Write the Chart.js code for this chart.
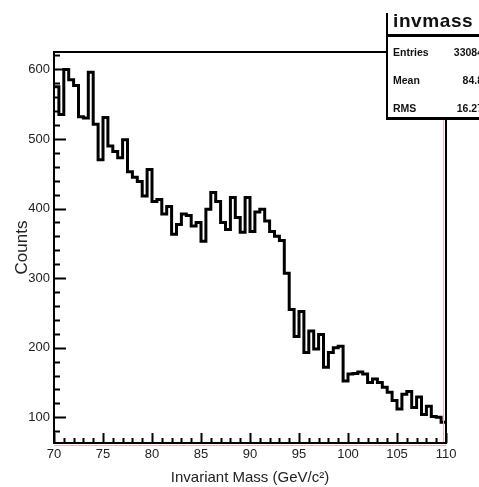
<!DOCTYPE html>
<html>
<head>
<meta charset="utf-8">
<script src="https://cdn.jsdelivr.net/npm/chart.js@4/dist/chart.umd.min.js"></script>
<style>
html,body{margin:0;padding:0;background:#fff;overflow:hidden;}
#wrap{position:relative;width:479px;height:487px;overflow:hidden;}
#stats{position:absolute;left:386px;top:13px;width:120px;height:104px;background:#fff;
  border-left:2px solid #000;border-bottom:3px solid #000;font-family:"Liberation Sans",Arial,sans-serif;color:#111;}
#stats .ttl{position:absolute;left:5px;top:-3px;font-size:19px;font-weight:bold;letter-spacing:0.6px;}
#stats .sep{position:absolute;left:0;top:21px;width:100%;height:3px;background:#000;}
#stats .row{position:absolute;left:5px;width:90px;font-size:10.5px;font-weight:bold;}
#stats .row span{position:absolute;right:0;top:0;}
</style>
</head>
<body>
<div id="wrap">
<canvas id="c" width="479" height="487"></canvas>
<div id="stats">
  <div class="ttl">invmass</div>
  <div class="sep"></div>
  <div class="row" style="top:33px">Entries<span>33084</span></div>
  <div class="row" style="top:61px">Mean<span>84.8</span></div>
  <div class="row" style="top:89px">RMS<span>16.27</span></div>
</div>
</div>
<script>
// ---- data ----
const histLow = 70;          // GeV/c^2
const binWidth = 0.5;        // GeV/c^2
const counts = [
  575,535,600,585,577,532,530,596,521,470,
  531,490,482,473,499,453,445,439,418,456,
  410,413,392,403,363,377,392,390,375,380,
  353,399,423,410,380,370,416,387,366,416,
  367,395,399,382,367,360,354,307,255,216,
  252,193,224,198,219,172,193,200,202,152,
  162,163,165,162,150,155,150,143,136,124,
  112,133,137,114,129,104,116,101,100,93
];
const xTickLabels = [70,75,80,85,90,95,100,105,110];
const yTickLabels = [100,200,300,400,500,600];
const yRange = [63, 625];

// bin low edges (categories) + closing edge
const binEdges = counts.map((_, i) => histLow + i * binWidth);
const points = counts.map((v, i) => ({x: binEdges[i], y: v}));
points.push({x: histLow + counts.length * binWidth, y: counts[counts.length - 1]});

const rootFrame = {
  id: 'rootFrame',
  afterDatasetsDraw(chart) {
    const {ctx, chartArea: a, scales: {x, y}} = chart;
    ctx.save();
    ctx.strokeStyle = '#000';
    ctx.lineWidth = 2;
    ctx.beginPath();
    // y ticks (inside the frame)
    for (let v = 20 * Math.ceil(yRange[0] / 20); v <= yRange[1]; v += 20) {
      const py = Math.round(y.getPixelForValue(v)) + 0.5;
      const len = yTickLabels.includes(v) ? 12 : 6;
      ctx.moveTo(a.left, py); ctx.lineTo(a.left + len, py);
    }
    // x ticks
    for (let v = xTickLabels[0]; v <= xTickLabels[xTickLabels.length - 1]; v += 1) {
      const px = Math.round(x.getPixelForValue(v)) + 0.5;
      const len = xTickLabels.includes(v) ? 10 : 5;
      ctx.moveTo(px, a.bottom); ctx.lineTo(px, a.bottom - len);
    }
    ctx.stroke();
    // pink inner lines (ROOT frame)
    ctx.strokeStyle = '#f4b0b0';
    ctx.lineWidth = 1;
    ctx.beginPath();
    ctx.moveTo(a.right - 2.5, a.top); ctx.lineTo(a.right - 2.5, a.bottom);
    ctx.moveTo(a.left, a.bottom + 2.5); ctx.lineTo(a.right, a.bottom + 2.5);
    ctx.stroke();
    // frame
    ctx.strokeStyle = '#000';
    ctx.lineWidth = 2;
    ctx.strokeRect(a.left, a.top, a.right - a.left, a.bottom - a.top);
    ctx.restore();
  }
};

new Chart(document.getElementById('c'), {
  type: 'line',
  data: {
    datasets: [{
      data: points,
      stepped: true,
      borderColor: '#000',
      borderWidth: 3,
      pointRadius: 0,
      fill: false,
      tension: 0
    }]
  },
  options: {
    responsive: false,
    animation: false,
    devicePixelRatio: 1,
    layout: {padding: {top: 52, right: 33, left: 0, bottom: 0}},
    plugins: {legend: {display: false}, tooltip: {enabled: false}},
    scales: {
      x: {
        type: 'linear',
        min: xTickLabels[0],
        max: xTickLabels[xTickLabels.length - 1],
        grid: {display: false, drawTicks: false, tickLength: 0},
        border: {display: false},
        afterBuildTicks: s => { s.ticks = xTickLabels.map(v => ({value: v})); },
        afterFit: s => { s.height = 44; },
        ticks: {
          padding: 4, maxRotation: 0, autoSkip: false,
          color: '#222',
          font: {family: '"Liberation Sans", Arial, sans-serif', size: 13},
          callback: v => String(v)
        },
        title: {
          display: true, text: 'Invariant Mass (GeV/c²)', color: '#222',
          font: {family: '"Liberation Sans", Arial, sans-serif', size: 15},
          padding: {top: 0, bottom: 0}
        }
      },
      y: {
        type: 'linear',
        min: yRange[0],
        max: yRange[1],
        grid: {display: false, drawTicks: false, tickLength: 0},
        border: {display: false},
        afterBuildTicks: s => { s.ticks = yTickLabels.map(v => ({value: v})); },
        afterFit: s => { s.width = 54; },
        ticks: {
          padding: 4, autoSkip: false,
          color: '#222',
          font: {family: '"Liberation Sans", Arial, sans-serif', size: 13},
          callback: v => String(v)
        },
        title: {
          display: true, text: 'Counts', color: '#222',
          font: {family: '"Liberation Sans", Arial, sans-serif', size: 17},
          padding: {top: 12, bottom: 0}
        }
      }
    }
  },
  plugins: [rootFrame]
});
</script>
</body>
</html>
